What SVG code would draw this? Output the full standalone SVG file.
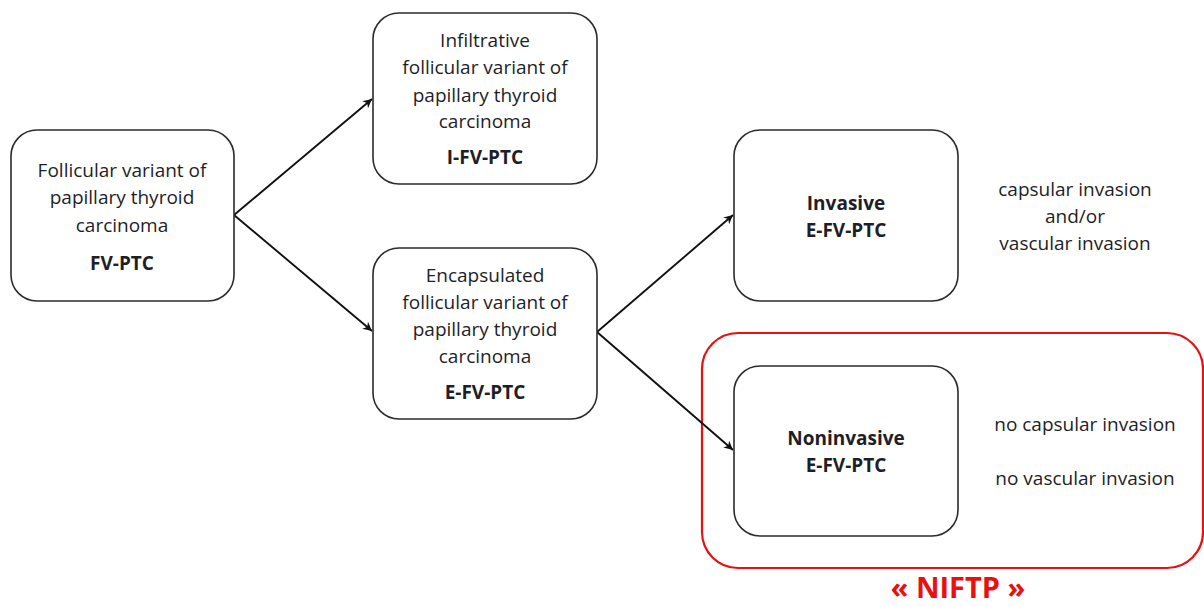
<svg xmlns="http://www.w3.org/2000/svg" width="1204" height="607" viewBox="0 0 1204 607">
<style>
.box{fill:#fff;stroke:#2b2b2b;stroke-width:1.6}
.t{font-family:"Open Sans","Liberation Sans",sans-serif;font-size:19px;fill:#1e1e28;text-anchor:middle}
.b{font-weight:bold}
.c{stroke:#111;stroke-width:1.9;fill:none;marker-end:url(#ah)}
</style>
<defs>
<marker id="ah" viewBox="0 0 10 10" refX="10" refY="5" markerWidth="9" markerHeight="9" markerUnits="userSpaceOnUse" orient="auto">
<path d="M0,0 L10,5 L0,10 L3,5 Z" fill="#111"/>
</marker>
</defs>
<rect width="1204" height="607" fill="#fff"/>
<g id="niftp">
<rect x="702" y="333" width="501" height="235" rx="36" fill="none" stroke="#e81010" stroke-width="2.2"/>
<text x="958" y="598" font-family="'Open Sans','Liberation Sans',sans-serif" font-size="29" font-weight="bold" fill="#e81010" text-anchor="middle">« NIFTP »</text>
</g>
<g id="connectors">
<line class="c" x1="234" y1="215" x2="372" y2="99"/>
<line class="c" x1="234" y1="215" x2="372" y2="331"/>
<line class="c" x1="597" y1="332" x2="733" y2="215"/>
<line class="c" x1="597" y1="332" x2="733" y2="450"/>
</g>
<g id="fvptc">
<rect class="box" x="11" y="130" width="223" height="171" rx="26"/>
<text class="t" x="122" y="177">Follicular variant of</text>
<text class="t" x="122" y="204">papillary thyroid</text>
<text class="t" x="122" y="232">carcinoma</text>
<text class="t b" x="122" y="270">FV-PTC</text>
</g>
<g id="ifvptc">
<rect class="box" x="373" y="13" width="224" height="171" rx="26"/>
<text class="t" x="485" y="47">Infiltrative</text>
<text class="t" x="485" y="74">follicular variant of</text>
<text class="t" x="485" y="102">papillary thyroid</text>
<text class="t" x="485" y="128">carcinoma</text>
<text class="t b" x="485" y="164">I-FV-PTC</text>
</g>
<g id="efvptc">
<rect class="box" x="373" y="248" width="224" height="171" rx="26"/>
<text class="t" x="485" y="282">Encapsulated</text>
<text class="t" x="485" y="309">follicular variant of</text>
<text class="t" x="485" y="336">papillary thyroid</text>
<text class="t" x="485" y="363">carcinoma</text>
<text class="t b" x="485" y="399">E-FV-PTC</text>
</g>
<g id="invasive">
<rect class="box" x="734" y="130" width="224" height="171" rx="26"/>
<text class="t b" x="846" y="210">Invasive</text>
<text class="t b" x="846" y="237">E-FV-PTC</text>
</g>
<g id="noninvasive">
<rect class="box" x="734" y="366" width="224" height="170" rx="26"/>
<text class="t b" x="846" y="445">Noninvasive</text>
<text class="t b" x="846" y="472">E-FV-PTC</text>
</g>
<g id="labels">
<text class="t" x="1075" y="196">capsular invasion</text>
<text class="t" x="1075" y="223">and/or</text>
<text class="t" x="1075" y="250">vascular invasion</text>
<text class="t" x="1085" y="431">no capsular invasion</text>
<text class="t" x="1085" y="485">no vascular invasion</text>
</g>
</svg>
